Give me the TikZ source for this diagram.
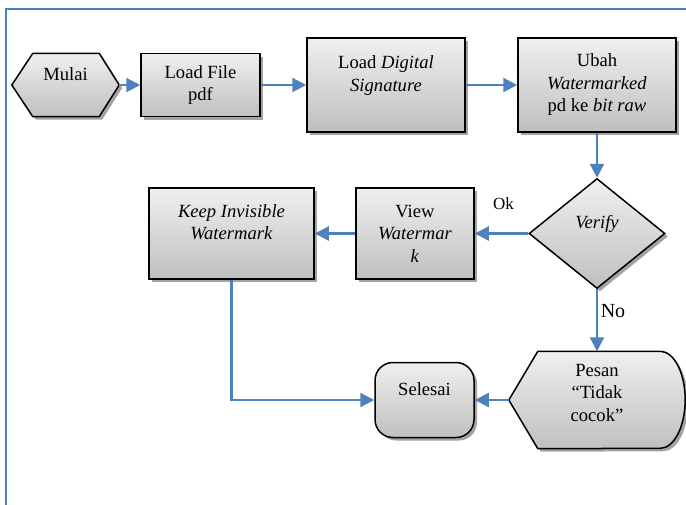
\documentclass[tikz,border=0pt]{standalone}
\usepackage{fontspec}
\setmainfont{Liberation Serif}
\usetikzlibrary{arrows.meta,shapes.geometric,shadows,backgrounds}
\definecolor{garisbiru}{RGB}{79,129,189}
\begin{document}
\begin{tikzpicture}[x=1pt, y=-1pt,
    font=\fontsize{18.6}{22.5}\selectfont,
    isi/.style={top color=black!6, bottom color=black!25, draw=black, line width=1.5pt,
        drop shadow={shadow xshift=3pt, shadow yshift=-3pt, fill=black!36, opacity=1}},
    kotak/.style={isi, rectangle, inner sep=2pt, align=center},
    kosong/.style={rectangle, inner sep=0pt, align=center},
    panah/.style={draw=garisbiru, line width=2.2pt, -{Triangle[length=14pt,width=14pt]}}]
    \useasboundingbox (0,0) rectangle (686,504);
    \draw[garisbiru, line width=2.5pt] (6,520) -- (6,9) -- (700,9);
    \node[kosong, minimum width=107pt, minimum height=63pt] (mulai) at (65.5,85) {Mulai\\\mbox{}};
    \node[kotak, minimum width=119pt, minimum height=63pt] (loadpdf) at (200.5,85) {Load File\\pdf};
    \node[kotak, minimum width=158pt, minimum height=94pt] (loadsig) at (386,85) {Load \textit{Digital}\\\textit{Signature}\\\mbox{}};
    \node[kotak, minimum width=158pt, minimum height=94pt] (ubah) at (597,85) {Ubah\\\textit{Watermarked}\\pd ke \textit{bit raw}};
    \node[isi, diamond, aspect=1.24, minimum width=136pt, minimum height=110pt, inner sep=0pt, align=center] (verify) at (597,233.5) {\textit{Verify}\\\mbox{}};
    \node[kotak, minimum width=118pt, minimum height=91pt] (view) at (415,233.5) {View\\\textit{Watermar}\\\textit{k}};
    \node[kotak, minimum width=165pt, minimum height=91pt] (keep) at (231.5,233.5) {\textit{Keep Invisible}\\\textit{Watermark}\\\mbox{}};
    \node[kotak, rounded corners=18pt, minimum width=99pt, minimum height=75pt] (selesai) at (424.5,400) {Selesai\\\mbox{}};
    \node[kosong, minimum width=176pt, minimum height=97pt] (pesan) at (597,400) {Pesan\\``Tidak\\cocok''\\[-8pt]\mbox{}};
    \begin{scope}[on background layer]
        \path[isi] (mulai.west) -- ([xshift=21pt]mulai.north west) -- ([xshift=-20pt]mulai.north east) -- (mulai.east)
            -- ([xshift=-20pt]mulai.south east) -- ([xshift=21pt]mulai.south west) -- cycle;
        \path[isi] (pesan.west) -- ([xshift=29pt]pesan.north west) -- ([xshift=-25pt]pesan.north east)
            arc[start angle=90, end angle=-90, x radius=25pt, y radius=48.5pt] -- ([xshift=29pt]pesan.south west) -- cycle;
    \end{scope}
    \draw[panah] (mulai.east) -- (loadpdf.west);
    \draw[panah] (loadpdf.east) -- (loadsig.west);
    \draw[panah] (loadsig.east) -- (ubah.west);
    \draw[panah] (ubah.south) -- (verify.north);
    \draw[panah] (verify.west) -- node[xshift=2pt, yshift=30pt, font=\fontsize{17}{20}\selectfont] {Ok} (view.east);
    \draw[panah] (view.west) -- (keep.east);
    \draw[panah] (keep.south) |- (selesai.west);
    \draw[panah] (verify.south) -- node[xshift=16pt, yshift=9pt, font=\fontsize{20}{24}\selectfont] {No} (pesan.north);
    \draw[panah] (pesan.west) -- (selesai.east);
\end{tikzpicture}
\end{document}
